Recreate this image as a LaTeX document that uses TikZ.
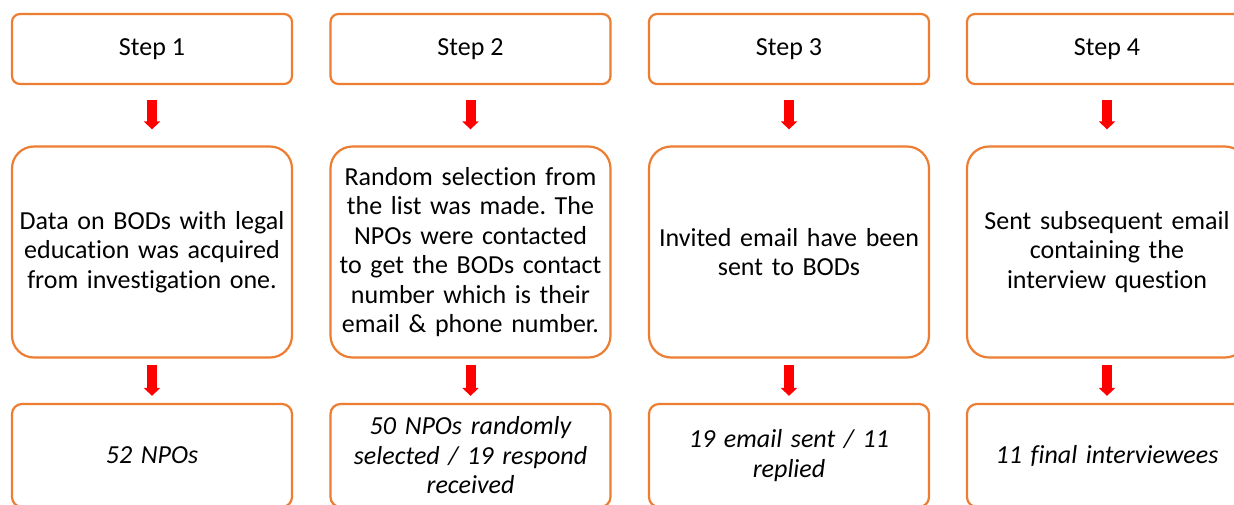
\documentclass[tikz,border=0pt]{standalone}
\usepackage{fontspec}
\setmainfont[Ligatures={NoCommon}]{Carlito}
\usetikzlibrary{arrows.meta,positioning}
\definecolor{boxorange}{RGB}{237,125,49}
\definecolor{arrowred}{RGB}{255,0,0}
\tikzset{font=\fontsize{26}{29.5}\selectfont}
\tikzset{
  stepbox/.style={draw=boxorange, line width=2.2pt, fill=white, rounded corners=8pt,
    minimum width=280pt, minimum height=70pt, align=center},
  infobox/.style={stepbox, rounded corners=22pt, minimum height=211pt, text width=266pt},
  countbox/.style={stepbox, rounded corners=10pt, minimum height=103pt, text width=266pt,
    font=\fontsize{26}{29.5}\selectfont\itshape},
  downarrow/.style={draw=arrowred, line width=10pt, -{Triangle[width=16pt,length=8pt]}}
}

\begin{document}
\frenchspacing
\begin{tikzpicture}[x=1pt,y=-1pt]
  \clip (0,0) rectangle (1234,504);
  \fill[white] (0,0) rectangle (1234,504);

  % top row
  \node[stepbox] (s1) at (152,49) {Step 1};
  \node[stepbox] (s2) at (470.5,49) {Step 2};
  \node[stepbox] (s3) at (789,49) {Step 3};
  \node[stepbox] (s4) at (1107,49) {Step 4};

  % middle row
  \node[infobox] (m1) at (152,252) {Data on BODs with legal\\education was acquired\\from investigation one.};
  \node[infobox] (m2) at (470.5,252) {Random selection from\\the list was made. The\\NPOs were contacted\\to get the BODs contact\\number which is their\\email \& phone number.};
  \node[infobox] (m3) at (789,252) {Invited email have been\\sent to BODs};
  \node[infobox] (m4) at (1107,252) {Sent subsequent email\\containing the\\interview question};

  % bottom row
  \node[countbox] (c1) at (152,455.5) {52 NPOs};
  \node[countbox] (c2) at (470.5,455.5) {50 NPOs randomly\\selected / 19 respond\\received};
  \node[countbox] (c3) at (789,455.5) {19 email sent / 11\\replied};
  \node[countbox] (c4) at (1107,455.5) {11 final interviewees};

  \foreach \i in {1,...,4}{
    \draw[downarrow] ([yshift=-15pt]s\i.south) -- ([yshift=16pt]m\i.north);
    \draw[downarrow] ([yshift=-6pt]m\i.south) -- ([yshift=7pt]c\i.north);
  }
\end{tikzpicture}
\end{document}
